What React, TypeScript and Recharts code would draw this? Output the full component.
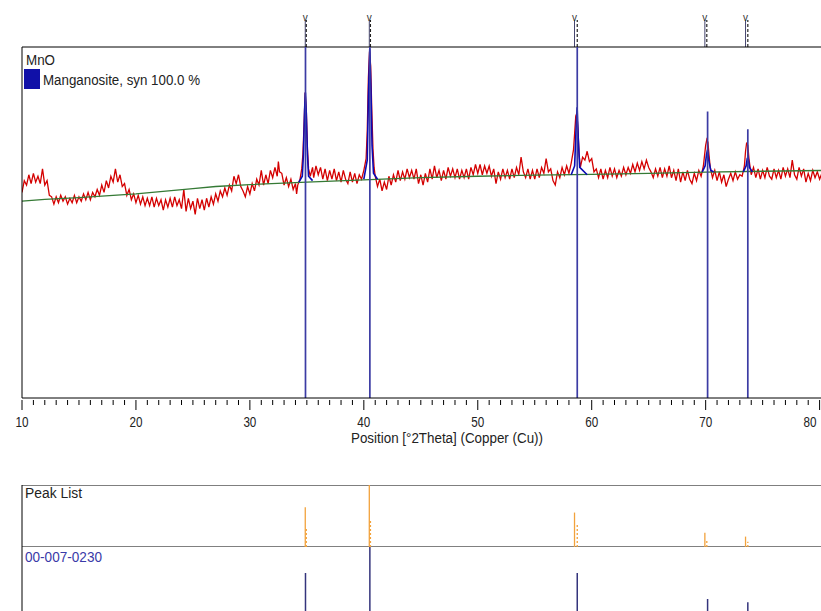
import React from 'react';
import { ComposedChart, Line, XAxis, YAxis, ReferenceLine, Scatter, Label } from 'recharts';

const FONT = '"Liberation Sans", Arial, sans-serif';

// Measured scan, [2θ (°), counts]
const scan10to30: [number, number][] = [
  [10.0, 140], [10.2, 148], [10.4, 145], [10.6, 152], [10.8, 146], [11.0, 153], [11.2, 147], [11.4, 151],
  [11.6, 146], [11.8, 156], [12.0, 145], [12.2, 148], [12.4, 138], [12.6, 137], [12.8, 132], [13.0, 137],
  [13.2, 133], [13.4, 138], [13.6, 134], [13.8, 137], [14.0, 132], [14.2, 136], [14.4, 133], [14.6, 138],
  [14.8, 133], [15.0, 137], [15.2, 134], [15.4, 139], [15.6, 135], [15.8, 140], [16.0, 135], [16.2, 140],
  [16.4, 137], [16.6, 142], [16.8, 138], [17.0, 145], [17.2, 140], [17.4, 148], [17.6, 143], [17.8, 151],
  [18.0, 147], [18.2, 156], [18.4, 147], [18.6, 152], [18.8, 144], [19.0, 146], [19.2, 138], [19.4, 142],
  [19.6, 135], [19.8, 139], [20.0, 133], [20.2, 138], [20.4, 132], [20.6, 137], [20.8, 131], [21.0, 136],
  [21.2, 131], [21.4, 137], [21.6, 130], [21.8, 136], [22.0, 131], [22.2, 135], [22.4, 128], [22.6, 135],
  [22.8, 130], [23.0, 136], [23.2, 130], [23.4, 137], [23.6, 131], [23.8, 135], [24.0, 129], [24.2, 142],
  [24.4, 127], [24.6, 136], [24.8, 129], [25.0, 134], [25.2, 125], [25.4, 136], [25.6, 129], [25.8, 135],
  [26.0, 128], [26.2, 136], [26.4, 130], [26.6, 137], [26.8, 132], [27.0, 139], [27.2, 134], [27.4, 141],
  [27.6, 137], [27.8, 143], [28.0, 138], [28.2, 145], [28.4, 141], [28.6, 151], [28.8, 146], [29.0, 152],
  [29.2, 144], [29.4, 141], [29.6, 137], [29.8, 144],
];

const scan30to50: [number, number][] = [
  [30.0, 139], [30.2, 146], [30.4, 141], [30.6, 149], [30.8, 145], [31.0, 155], [31.2, 145], [31.4, 152],
  [31.6, 146], [31.8, 155], [32.0, 150], [32.2, 157], [32.4, 151], [32.5, 161], [32.6, 154], [32.8, 153],
  [33.0, 145], [33.2, 150], [33.4, 144], [33.6, 149], [33.8, 142], [34.0, 146], [34.1, 139], [34.2, 145],
  [34.4, 149], [34.55, 156], [34.65, 166], [34.75, 185], [34.85, 208], [34.95, 196], [35.05, 170], [35.15, 156],
  [35.3, 151], [35.5, 157], [35.6, 150], [35.8, 158], [36.0, 152], [36.2, 157], [36.4, 149], [36.6, 156],
  [36.8, 148], [37.0, 155], [37.2, 149], [37.4, 156], [37.6, 148], [37.8, 154], [38.0, 147], [38.2, 155],
  [38.4, 149], [38.6, 146], [38.8, 154], [39.0, 147], [39.2, 153], [39.4, 146], [39.6, 152], [39.8, 149],
  [40.0, 155], [40.2, 163], [40.3, 182], [40.4, 218], [40.5, 236], [40.6, 226], [40.7, 196], [40.8, 170],
  [40.9, 157], [41.0, 151], [41.2, 144], [41.4, 149], [41.6, 141], [41.8, 147], [42.0, 142], [42.2, 151],
  [42.4, 145], [42.6, 152], [42.8, 147], [43.0, 155], [43.2, 148], [43.4, 154], [43.6, 149], [43.8, 156],
  [44.0, 150], [44.2, 155], [44.4, 149], [44.6, 156], [44.8, 146], [45.0, 152], [45.2, 145], [45.4, 153],
  [45.6, 147], [45.8, 156], [46.0, 149], [46.2, 158], [46.4, 150], [46.6, 155], [46.8, 148], [47.0, 155],
  [47.2, 149], [47.4, 157], [47.6, 151], [47.8, 156], [48.0, 150], [48.2, 156], [48.4, 149], [48.6, 155],
  [48.8, 150], [49.0, 156], [49.2, 149], [49.4, 157], [49.6, 152], [49.8, 159],
];

const scan50to70: [number, number][] = [
  [50.0, 153], [50.2, 159], [50.4, 152], [50.6, 158], [50.8, 153], [51.0, 158], [51.2, 151], [51.4, 156],
  [51.6, 146], [51.8, 154], [52.0, 149], [52.2, 156], [52.4, 150], [52.6, 155], [52.8, 149], [53.0, 156],
  [53.2, 150], [53.4, 157], [53.6, 152], [53.8, 164], [54.0, 154], [54.2, 150], [54.4, 156], [54.6, 149],
  [54.8, 155], [55.0, 149], [55.2, 156], [55.4, 150], [55.6, 157], [55.8, 153], [56.0, 163], [56.2, 154],
  [56.4, 156], [56.6, 148], [56.8, 145], [57.0, 154], [57.2, 150], [57.4, 157], [57.6, 152], [57.8, 158],
  [58.0, 153], [58.2, 160], [58.4, 169], [58.5, 180], [58.6, 192], [58.7, 194], [58.8, 182], [58.9, 165],
  [59.0, 157], [59.2, 164], [59.4, 162], [59.6, 168], [59.8, 161], [60.0, 163], [60.2, 154], [60.4, 156],
  [60.6, 150], [60.8, 156], [61.0, 149], [61.2, 155], [61.4, 150], [61.6, 157], [61.8, 151], [62.0, 156],
  [62.2, 150], [62.4, 155], [62.6, 151], [62.8, 157], [63.0, 152], [63.2, 157], [63.4, 153], [63.6, 159],
  [63.8, 154], [64.0, 160], [64.2, 155], [64.4, 161], [64.6, 156], [64.8, 162], [65.0, 157], [65.2, 154],
  [65.4, 150], [65.6, 156], [65.8, 151], [66.0, 157], [66.2, 150], [66.4, 156], [66.6, 151], [66.8, 158],
  [67.0, 150], [67.2, 155], [67.4, 148], [67.6, 156], [67.8, 147], [68.0, 154], [68.2, 148], [68.4, 155],
  [68.6, 149], [68.8, 146], [69.0, 153], [69.2, 148], [69.4, 155], [69.6, 151], [69.8, 158], [69.9, 165],
];

const scan70to81: [number, number][] = [
  [70.0, 172], [70.1, 176], [70.2, 174], [70.3, 165], [70.4, 157], [70.6, 150], [70.8, 155], [71.0, 148],
  [71.2, 154], [71.4, 147], [71.6, 152], [71.8, 144], [72.0, 149], [72.2, 153], [72.4, 148], [72.6, 154],
  [72.8, 149], [73.0, 152], [73.2, 151], [73.4, 158], [73.5, 168], [73.6, 174], [73.7, 172], [73.8, 163],
  [73.9, 157], [74.0, 152], [74.2, 157], [74.4, 150], [74.6, 156], [74.8, 149], [75.0, 155], [75.2, 150],
  [75.4, 157], [75.6, 151], [75.8, 149], [76.0, 156], [76.2, 150], [76.4, 155], [76.6, 149], [76.8, 157],
  [77.0, 151], [77.2, 156], [77.4, 150], [77.6, 162], [77.8, 152], [78.0, 149], [78.2, 157], [78.4, 151],
  [78.6, 156], [78.8, 147], [79.0, 153], [79.2, 148], [79.4, 155], [79.6, 150], [79.8, 154], [80.0, 149],
  [80.2, 153], [80.4, 150], [80.6, 154], [80.8, 149], [81.0, 152],
];

// Fitted background
const backgroundCurve: [number, number][] = [
  [10, 134], [12, 135.2], [15, 136.5], [20, 139], [25, 142.5], [27, 144], [30, 145.3], [35, 147],
  [40, 148.5], [45, 150], [50, 151], [55, 151.7], [60, 152.3], [65, 153], [70, 153.8], [75, 154.4], [81, 155],
];

// Calculated profile around each reflection
const fitWindows: [number, number][][] = [
  [[34.3, 147], [34.6, 151], [34.7, 166], [34.8, 196], [34.87, 208], [34.95, 194], [35.05, 166], [35.15, 151], [35.5, 148]],
  [[40.0, 149], [40.3, 162], [40.4, 205], [40.52, 238], [40.62, 212], [40.72, 172], [40.85, 153], [41.2, 149]],
  [[58.2, 152], [58.5, 158], [58.62, 182], [58.72, 198], [58.82, 176], [58.95, 157], [59.6, 152]],
  [[69.7, 154], [69.95, 158], [70.08, 166], [70.17, 169], [70.27, 162], [70.45, 155], [70.7, 154]],
  [[73.3, 154], [73.55, 158], [73.65, 163], [73.72, 164], [73.85, 157], [74.1, 154]],
];

// Reference pattern 00-007-0230 (Manganosite, syn)
const refAngles = [34.88, 40.53, 58.73, 70.17, 73.7];
const refIntensities = [60, 100, 60, 20, 15];
const refStickCounts = [239, 239, 239, 195, 183];

// Peak list
const peakAngles = [34.86, 40.48, 58.49, 69.93, 73.5];
const peakHeights = [61, 100, 53, 22, 16];
const alpha2Angles = [34.95, 40.58, 58.73, 70.1, 73.7];
const alpha2Heights = [30, 41, 34, 11, 8];

const majorLabels = [10, 20, 30, 40, 50, 60, 70, 80];
const angleTicks = Array.from({ length: 72 }, (_, i) => 10 + i);

const X_DOMAIN: [number, number] = [10, 81];
const CHART_W = 831;
const AXIS_W = 22;
const MAIN_MAX = 239;
const PEAK_MAX = 95.4;

const toPoints = (pairs: [number, number][]) => pairs.map(([angle, counts]) => ({ angle, counts }));
const observed = toPoints([...scan10to30, ...scan30to50, ...scan50to70, ...scan70to81]);
const background = toPoints(backgroundCurve);
const fits = fitWindows.map(toPoints);
const stick = (angle: number, height: number) => [
  { angle, counts: 0 },
  { angle, counts: height },
];

const AngleTick = (props: any) => {
  const { x, y, payload } = props;
  const v = payload.value as number;
  const major = majorLabels.includes(v);
  // the last label sits against the right edge of the page
  const atEdge = v === majorLabels[majorLabels.length - 1];
  return (
    <g>
      <line x1={x} x2={x} y1={y} y2={y + (major ? 10 : 5)} stroke="#000" strokeWidth={1} />
      {major && (
        <text x={atEdge ? x - 3 : x} y={y + 27} textAnchor={atEdge ? 'end' : 'middle'} fontSize={14}
          fontFamily={FONT} fill="#222" textLength={13} lengthAdjust="spacingAndGlyphs">
          {v}
        </text>
      )}
    </g>
  );
};

const VMark = (p: any) => (
  <text x={p.cx} y={p.cy + 1} textAnchor="middle" fontSize={10} fontFamily={FONT} fill="#333">v</text>
);

const MainChart = () => (
  <ComposedChart width={CHART_W} height={448} margin={{ top: 47, right: 0, bottom: 0, left: 0 }}>
    <XAxis type="number" dataKey="angle" domain={X_DOMAIN} allowDataOverflow ticks={angleTicks} interval={0}
      tickLine={false} tickSize={0} tick={<AngleTick />} axisLine={{ stroke: '#000' }} height={50}>
      <Label content={(props: any) => {
        const vb = props.viewBox || { x: AXIS_W, y: 398 };
        return (
          <text x={vb.x + 329} y={vb.y + 45} fontSize={14} fontFamily={FONT} fill="#222"
            textLength={192} lengthAdjust="spacingAndGlyphs">
            Position [°2Theta] (Copper (Cu))
          </text>
        );
      }} />
    </XAxis>
    <YAxis type="number" domain={[0, MAIN_MAX]} allowDataOverflow ticks={[0, 100, 200]} tick={false}
      tickSize={9} tickLine={{ stroke: '#000' }} axisLine={{ stroke: '#000' }} width={AXIS_W} />
    <ReferenceLine y={MAIN_MAX} stroke="#000" strokeWidth={1} />
    <Line data={observed} dataKey="counts" stroke="#d40000" strokeWidth={1.3} dot={false} isAnimationActive={false} />
    <Line data={background} dataKey="counts" stroke="#357a35" strokeWidth={1.3} dot={false} isAnimationActive={false} />
    {fits.map((f, i) => (
      <Line key={`fit${i}`} data={f} dataKey="counts" stroke="#0a0ab4" strokeWidth={1.6} dot={false} isAnimationActive={false} />
    ))}
    {refAngles.map((a, i) => (
      <Line key={`ref${i}`} data={stick(a, refStickCounts[i])} dataKey="counts" stroke="#3c3ca4" strokeWidth={1.7}
        dot={false} isAnimationActive={false} />
    ))}
  </ComposedChart>
);

const MarkerStrip = () => (
  <ComposedChart width={CHART_W} height={47} margin={{ top: 20, right: 0, bottom: 0, left: AXIS_W }}>
    <XAxis type="number" dataKey="angle" domain={X_DOMAIN} allowDataOverflow hide />
    <YAxis type="number" domain={[0, 1]} hide />
    {peakAngles.map((a, i) => (
      <Line key={`pk${i}`} data={stick(a, 1)} dataKey="counts" stroke="#45456e" strokeWidth={1}
        dot={false} isAnimationActive={false} />
    ))}
    {alpha2Angles.map((a, i) => (
      <Line key={`a2${i}`} data={stick(a, 1)} dataKey="counts" stroke="#222" strokeWidth={1.2}
        strokeDasharray="3 2" dot={false} isAnimationActive={false} />
    ))}
    <Scatter data={peakAngles.map((a) => ({ angle: a, counts: 1 }))} dataKey="counts" shape={<VMark />}
      isAnimationActive={false} />
  </ComposedChart>
);

const PeakListPanel = () => (
  <ComposedChart width={CHART_W} height={62} margin={{ top: 0, right: 0, bottom: 0, left: 0 }}>
    <XAxis type="number" dataKey="angle" domain={X_DOMAIN} allowDataOverflow hide />
    <YAxis type="number" domain={[0, PEAK_MAX]} allowDataOverflow tick={false} tickLine={false}
      axisLine={{ stroke: '#000' }} width={AXIS_W} />
    <ReferenceLine y={PEAK_MAX} stroke="#000" />
    <ReferenceLine y={0} stroke="#000" />
    {peakAngles.map((a, i) => (
      <Line key={`pl${i}`} data={stick(a, peakHeights[i])} dataKey="counts" stroke="#f2a23c" strokeWidth={1.3}
        dot={false} isAnimationActive={false} />
    ))}
    {alpha2Angles.map((a, i) => (
      <Line key={`pl2${i}`} data={stick(a, alpha2Heights[i])} dataKey="counts" stroke="#f2a23c" strokeWidth={1.3}
        strokeDasharray="2 2" dot={false} isAnimationActive={false} />
    ))}
  </ComposedChart>
);

const ReferencePanel = () => (
  <ComposedChart width={CHART_W} height={65} margin={{ top: 0, right: 0, bottom: 0, left: 0 }}>
    <XAxis type="number" dataKey="angle" domain={X_DOMAIN} allowDataOverflow hide />
    <YAxis type="number" domain={[0, 100]} allowDataOverflow tick={false} tickLine={false}
      axisLine={{ stroke: '#000' }} width={AXIS_W} />
    {refAngles.map((a, i) => (
      <Line key={`rp${i}`} data={stick(a, refIntensities[i])} dataKey="counts" stroke="#34347c" strokeWidth={1.5}
        dot={false} isAnimationActive={false} />
    ))}
  </ComposedChart>
);

export default function App() {
  return (
    <div style={{ position: 'absolute', left: 0, top: 0, width: 821, height: 611, overflow: 'hidden', background: '#fff' }}>
      <div style={{ position: 'absolute', left: 0, top: 0 }}><MarkerStrip /></div>
      <div style={{ position: 'absolute', left: 0, top: 0 }}><MainChart /></div>
      <div style={{ position: 'absolute', left: 0, top: 485 }}><PeakListPanel /></div>
      <div style={{ position: 'absolute', left: 0, top: 547 }}><ReferencePanel /></div>
      <svg width={821} height={611} style={{ position: 'absolute', left: 0, top: 0, pointerEvents: 'none' }}>
        <text x={26} y={65} fontSize={14} fontFamily={FONT} fill="#222" textLength={29} lengthAdjust="spacingAndGlyphs">MnO</text>
        <rect x={24} y={69} width={16} height={20} fill="#1010a8" />
        <text x={43} y={85} fontSize={14} fontFamily={FONT} fill="#222" textLength={157} lengthAdjust="spacingAndGlyphs">
          Manganosite, syn 100.0 %
        </text>
        <text x={25} y={498} fontSize={14} fontFamily={FONT} fill="#222" textLength={57} lengthAdjust="spacingAndGlyphs">Peak List</text>
        <text x={25} y={562} fontSize={14} fontFamily={FONT} fill="#3a3aa8" textLength={77} lengthAdjust="spacingAndGlyphs">00-007-0230</text>
      </svg>
    </div>
  );
}
